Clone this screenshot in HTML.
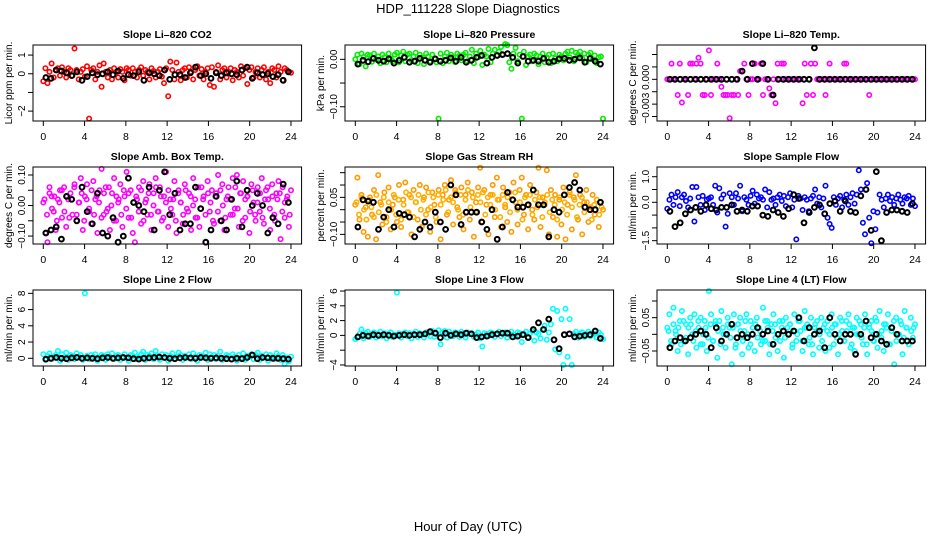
<!DOCTYPE html>
<html><head><meta charset="utf-8"><style>
html,body{margin:0;padding:0;background:#fff;}
svg{display:block;font-family:"Liberation Sans",sans-serif;}
</style></head><body>
<svg id="chart" width="936" height="540" viewBox="0 0 936 540" xmlns="http://www.w3.org/2000/svg">
<rect x="0" y="0" width="936" height="540" fill="#fff"/>
<text x="468" y="13" text-anchor="middle" font-size="13">HDP_111228  Slope Diagnostics</text>
<text x="468" y="531" text-anchor="middle" font-size="13">Hour of Day (UTC)</text>
</svg>
<script>
// ---- data (hours axis is 0..24; colored series evenly spaced over the day, black series are half-hour means) ----
const xTicks = [0,4,8,12,16,20,24];
const co2 = [-0.4,0.3,-0.5,0.1,0.55,-0.2,0.2,0.3,-0.1,0.35,0.1,-0.2,0.3,0.2,-0.1,1.35,0.2,-0.3,0.1,0.25,-0.15,0.4,-2.4,0.2,0.3,-0.3,0.1,0.45,-0.7,0.55,0.1,-0.2,0.2,-0.3,0.3,0.1,-0.2,0.25,0.1,-0.35,0.3,0.2,-0.1,0.3,0.1,-0.2,0.2,0.35,-0.1,0.2,0.1,-0.3,0.3,0.15,-0.2,0.1,0.25,-0.15,-0.5,0.3,-1.2,0.65,0.2,-0.3,0.6,0.1,-0.35,0.2,0.3,-0.2,0.35,0.1,-0.3,0.2,0.4,-0.1,0.25,-0.3,0.1,0.3,-0.6,0.35,-0.7,0.1,0.45,-0.3,0.2,0.3,-0.2,0.1,0.3,-0.35,0.2,0.1,-0.2,0.4,-0.1,0.3,-0.55,0.2,0.35,-0.2,0.1,0.3,-0.2,0.2,0.35,-0.3,0.1,-0.5,0.3,0.2,-0.2,0.4,0.1,-0.35,0.3,0.2,0.1,0.05];
const co2Mean = [-0.2,-0.25,0.2,0.15,0.05,-0.1,0.1,-0.35,-0.15,0.05,-0.05,0,0.1,-0.05,0.15,-0.25,-0.05,-0.1,0.1,-0.35,0.05,0,-0.1,0.2,-0.3,-0.05,-0.05,-0.2,0.05,0.35,-0.1,0,-0.25,0.05,-0.1,0.05,0,-0.05,0.2,0.35,-0.25,0.05,-0.05,0,-0.15,-0.05,-0.35,0.1];
const pres = [0,0.01,-0.01,0.012,0.005,-0.015,0.01,0.008,-0.005,0.012,0,0.006,-0.008,0.01,0.004,-0.006,0.012,0.002,-0.004,0.01,0.014,-0.006,0.008,0.016,-0.004,0.01,0.012,-0.002,0.006,0.014,-0.008,0.01,0.004,-0.01,0.012,0.006,-0.004,0.01,0.002,-0.006,-0.125,0.012,-0.008,0.006,0.014,-0.004,0.01,0.004,-0.006,0.012,0.008,-0.002,0.01,0.014,-0.004,0.006,0.02,-0.008,0.012,0.004,0.018,-0.012,0.01,0.006,0.022,-0.006,0.012,0.02,0.008,0.016,0.026,0.01,0.032,0.03,-0.006,-0.02,0.012,0.024,-0.004,0.01,-0.125,0.016,-0.012,0.006,0.01,-0.004,0.012,0.008,-0.01,0.006,0.012,-0.006,0.004,0.01,-0.008,0.012,0.002,-0.004,0.01,0.006,-0.002,0.012,0.016,0.004,0.018,-0.004,0.014,0.01,0.016,0.002,0.012,-0.006,0.01,0.014,0,0.008,-0.008,0.004,0.006,-0.125];
const presMean = [-0.01,-0.002,-0.005,0.002,-0.002,-0.004,0.001,-0.008,-0.002,0.004,-0.006,-0.004,0.002,-0.002,-0.006,0.001,-0.004,-0.002,0.003,-0.004,0.004,-0.006,-0.002,0.004,0.008,-0.008,0.004,0.008,0.01,0.012,0.004,-0.008,0.006,-0.004,-0.002,-0.004,0.002,-0.006,-0.004,0.001,0.002,-0.002,0,0.003,-0.006,0.002,-0.004,-0.01];
const temp = [0,0,0.0019,0,0,-0.0019,0.0019,-0.0028,0,0,-0.0019,0.0019,0.0019,0,0.0019,0.0026,0.0019,-0.0019,-0.0019,0,0.0035,-0.0019,0,0,0.0019,0,-0.0009,-0.0019,-0.0019,-0.0019,-0.0047,-0.0019,-0.0019,0,-0.0019,0.001,0.001,0.0019,0,-0.0019,0,0,0.0019,0,0,0.0019,-0.0019,0,0,-0.0011,-0.0019,0,-0.0029,0.0019,0,0.0019,0.0019,0,0,0,0,0,0,0,0,-0.0029,0.0019,-0.0019,0,0.0019,-0.0019,0.0019,0,0,0,0,-0.0019,0,0.0019,0,0,0,0,0,0,0.0019,0.0019,0,0,0,0,0,0,0,0,0,0,-0.0019,0,0,0,0,0,0,0,0,0,0,0,0,0,0,0,0,0,0,0,0,0,0];
const tempMean = [0,0,0,0,0,0,0,0,0,0,0,0,0,0,0.001,0,0.0019,0,0.0019,0,-0.0019,0,0,0,0,0,0,0,0.0038,0,0,0,0,0,0,0,0,0,0,0,0,0,0,0,0,0,0,0];
const amb = [0.01,-0.09,-0.12,0.06,0.03,-0.02,-0.08,0.02,0.05,-0.04,0.06,-0.07,0.02,0.04,-0.03,0.07,-0.05,0.01,0.09,-0.08,0.03,0.07,-0.02,-0.06,0.08,0.02,-0.09,0.05,0.12,-0.03,0.06,-0.01,-0.08,0.04,0.09,-0.05,0.01,0.07,-0.07,0.03,0.11,-0.04,0.05,-0.09,-0.12,0.02,0.06,-0.06,0.08,0.01,-0.03,0.07,-0.08,0.04,0.09,-0.02,0.06,-0.05,0.03,0.11,-0.07,0.02,-0.03,0.08,-0.09,0.05,0.01,-0.06,0.07,-0.01,0.04,-0.08,0.09,0.02,-0.04,-0.07,0.06,0.03,-0.12,0.08,-0.02,0.05,-0.06,0.04,0.1,-0.05,0.07,-0.08,0.02,0.06,-0.03,0.09,-0.01,0.1,-0.07,0.04,0.08,-0.04,0.03,-0.09,0.07,0.01,-0.05,0.06,-0.02,0.09,-0.06,0.05,0.02,-0.08,0.07,-0.03,0.04,0.08,-0.11,0.06,-0.04,0.02,-0.07,0.05];
const amb2 = [0.02,-0.03,0.04,-0.01,0.03,-0.05,0.01,0.05,-0.02,0.03,-0.04,0.02,0.06,-0.03,0.01,0.04,-0.05,0.02,-0.01,0.05,-0.03,0.03,0.01,-0.04,0.04,-0.02,0.06,0,-0.05,0.03,0.02,-0.03,0.05,-0.01,0.04,-0.04,0.01,0.03,-0.02,0.05,-0.05,0.02,0.04,-0.03,0,0.06,-0.02,0.03,-0.04,0.01,0.05,-0.01,0.02,-0.05,0.04,0.01,-0.03,0.05,-0.02,0.03,0,-0.04,0.06,-0.01,0.02,-0.03,0.04,0.01,-0.05,0.03,-0.02,0.05,0,-0.04,0.03,0.02,-0.03,0.06,-0.01,0.04,-0.05,0.02,0.03,-0.02,0.05,-0.03,0.01,0.04,-0.04,0.02,0.06,-0.01,0.03,-0.05,0.02,0.04,-0.02,0.01,0.03,-0.03];
const ambMean = [-0.09,-0.08,-0.07,-0.11,0.03,0.02,-0.05,0.06,-0.02,-0.06,0.04,-0.09,-0.1,-0.04,-0.12,-0.1,0.09,0.01,0,-0.02,0.06,-0.08,0.05,0.11,-0.03,0.04,-0.08,-0.06,-0.06,0.06,-0.01,-0.12,-0.08,0.03,-0.05,-0.08,0.02,0.08,-0.07,0.05,0,0.04,0,-0.09,-0.04,-0.06,0.07,0.01];
const rh = [0.02,0.13,-0.04,0.06,-0.09,0.01,-0.11,0.05,-0.02,0.08,-0.12,0.14,0.03,-0.06,0.07,-0.03,0.09,-0.08,0.02,0.05,-0.05,0.1,-0.07,0.04,0.11,-0.01,0.06,-0.1,0.08,0.03,-0.04,0.1,-0.07,0.05,0.09,0,-0.09,0.07,0.02,-0.05,0.08,-0.12,0.06,0.1,-0.02,0.04,0.12,-0.06,0.08,0.01,-0.03,0.09,-0.08,0.06,0.11,-0.04,0.07,-0.11,0.03,0.09,0.17,-0.05,0.08,0.02,-0.1,0.06,0.1,-0.03,0.13,0.04,-0.07,0.09,0.01,-0.05,0.07,-0.09,0.11,0.03,-0.06,0.08,0.13,-0.02,0.06,-0.08,0.1,0,-0.04,0.07,0.17,-0.07,0.05,0.02,0.16,-0.1,0.08,-0.03,0.06,-0.11,0.04,-0.06,0.09,-0.12,0.02,0.07,-0.08,0.05,0.14,-0.04,0.06,-0.1,0.03,0.08,-0.05,0.01,0.06,-0.02,0.04,-0.07,0.03,0];
const rh2 = [0.03,-0.02,0.05,0,-0.04,0.04,0.01,-0.03,0.06,-0.01,0.02,0.05,-0.05,0.03,0,0.06,-0.02,0.04,-0.04,0.02,0.07,-0.01,0.05,-0.03,0.03,0.06,0,0.04,-0.02,0.07,0.01,0.05,-0.03,0.06,0.02,0.04,0.08,-0.01,0.05,0.03,0.07,0,0.06,-0.02,0.04,0.08,0.01,0.05,-0.01,0.06,0.03,0.07,-0.02,0.05,0.02,0.06,0,0.04,-0.03,0.06,0.02,0.05,-0.01,0.04,0.07,0,0.03,-0.04,0.05,0.02,0.06,-0.02,0.04,0.01,0.05,-0.03,0.03,0.06,-0.01,0.04,0.02,-0.04,0.05,0,0.03,-0.02,0.06,0.01,0.04,-0.03,0.02,0.05,-0.01,0.03,0,-0.04,0.02,0.04,-0.02,0.01];
const rhMean = [-0.07,0.04,0.035,0.03,-0.08,-0.03,0,-0.07,-0.015,-0.02,-0.03,-0.11,-0.08,-0.05,-0.07,-0.01,-0.05,-0.08,0.1,0.06,-0.06,-0.01,-0.01,-0.01,-0.05,-0.08,0,-0.12,-0.07,0.07,0.04,0.01,0.01,0.02,0.08,0.02,0.02,-0.11,0,-0.01,0.06,0.09,0.11,0.08,0.01,0,0,0.03];
const flow = [-0.25,0.1,0.3,-0.1,0.2,0.4,-0.15,0.2,0.3,0.05,-0.2,0.15,0.6,-0.75,0.6,0.2,-0.1,0.25,-0.3,0.1,0.15,0.2,-0.1,0.65,-0.4,0.55,0.15,0.3,-0.95,-0.45,0.35,0.2,-0.1,0.35,0.15,0.65,-0.35,0.2,0.1,-0.1,0.25,0.45,-0.05,0.3,0.15,0.2,0.1,0.5,-0.2,0.4,0.1,0.15,-0.1,0.2,0.3,0.05,0.25,-0.15,0.2,0.35,-0.2,0.1,-1.45,0.25,0.15,-0.3,0.2,0.1,-0.35,0.15,0.25,0.5,-0.05,0.2,-0.2,0.15,0.65,-0.6,-0.85,-1.0,0.2,-0.1,0.15,0.25,-0.2,0.1,0.3,-0.1,0.2,0.35,-0.05,0.3,1.25,0.5,-0.8,-1.25,0.75,-0.6,-1.6,-0.35,-1.05,-0.4,0.3,0.1,-0.2,0.15,0.3,0.05,0.2,-0.1,0.15,0.3,0.1,-0.05,0.2,0.15,0.25,-0.1,0.15,-0.15];
const flowMean = [-0.35,-0.95,-0.8,-0.45,-0.3,-0.2,-0.35,-0.1,-0.25,-0.3,-0.2,-0.2,-0.1,-0.35,-0.3,-0.35,-0.15,-0.15,-0.5,-0.55,-0.3,-0.4,-0.55,-0.25,0.3,0.15,-0.8,-0.4,-0.2,-0.1,-0.45,-0.05,0.05,-0.35,0.05,-0.35,-0.4,0.25,0.5,-1.1,1.2,-1.5,-0.4,-0.3,-0.3,-0.35,-0.4,-0.05];
const line2 = [0.5,-0.2,0.3,0.6,-0.1,0.2,0.4,0.9,-0.3,0.5,0.1,0.7,-0.2,0.4,0.3,-0.1,0.6,0.2,0.4,-0.2,8.0,0.3,-0.1,0.4,0.2,0.5,-0.3,0.1,0.4,0.3,-0.2,0.5,0.2,0.6,-0.1,0.3,0.4,-0.2,0.2,0.5,0.1,-0.3,0.4,0.3,0.7,-0.1,0.2,0.5,0.8,-0.2,0.4,0.3,0.6,-0.1,0.9,0.3,-0.2,0.5,0.1,0.4,-0.3,0.3,0.6,-0.1,0.2,0.7,0.4,-0.2,0.3,0.1,0.5,-0.1,0.6,0.2,-0.3,0.4,0.3,0.1,0.7,-0.2,0.5,0.2,0.4,-0.1,0.3,0.8,-0.2,0.1,0.4,0.3,-0.1,0.5,0.2,-0.3,0.4,0.1,0.6,-0.2,0.3,0.2,0.5,-0.1,0.4,0.7,-0.2,0.3,0.1,0.5,-0.3,0.4,0.2,-0.1,0.6,0.3,-0.2,0.4,-0.7,0.1,-0.4,0.2];
const line2Mean = [-0.1,0,0.1,0,-0.05,0.05,0.1,0,0.05,0,-0.05,0.05,0.1,0,0.05,0.1,0.05,-0.05,-0.1,0,0.05,0.1,0.15,0.1,0,-0.05,0.05,0.1,0.05,0,0.1,0.05,0,0.05,0,-0.05,-0.1,0,-0.05,0.1,0.4,-0.05,0.1,0.05,0,0,-0.05,-0.1];
const line3 = [-0.5,-0.3,0.2,0.8,-0.4,0.3,0.5,-0.2,0.1,0.4,-0.3,0.2,0.5,-0.1,0.3,-0.4,0.2,0.4,-0.2,0.1,5.8,0.3,-0.3,0.2,0.4,-0.1,0.3,-0.4,0.2,0.5,-0.2,0.3,0.1,-0.3,0.4,0.2,-0.1,0.6,-0.2,0.3,0.7,-1.2,0.4,0.6,-0.3,0.5,0.2,-0.1,0.4,0.3,-0.2,0.5,0.1,-0.3,0.4,0.2,0.3,-0.2,0.1,0.4,-0.4,-1.5,0.3,0.2,-0.1,0.4,0.3,-0.2,0.2,0.5,-0.1,0.3,0.4,-0.3,0.2,0.5,0.1,-0.2,0.4,0.3,-0.9,0.2,0.5,-0.2,0.3,0.6,-0.7,0.4,0.2,-0.4,0.8,1.3,-0.6,0.4,1.5,3.6,-1.9,3.3,-2.3,2.2,-4.0,3.6,-2.9,2.2,-4.0,0.2,0.5,-0.3,0.3,0.4,-0.2,0.2,0.5,-0.1,0.3,0.2,-0.3,0.4,0.1,-0.5];
const line3Mean = [-0.2,0,-0.1,0.1,0,0.1,0,-0.1,0,0.1,0,0.1,0.1,0.2,0.5,0.3,-0.3,0.3,0,0.2,0.1,0.3,0.2,-0.3,-0.2,-0.1,0.1,0.2,0.3,0.3,-0.2,-0.1,0.1,-0.3,0.8,1.7,0.8,2.2,-0.6,-1.8,0.1,0.2,-0.2,-0.1,0,0.1,0.6,-0.4];
const line4 = [0.02,0.06,-0.03,0.08,0.01,-0.05,0.04,0.07,-0.02,0.03,-0.06,0.05,0,0.06,-0.04,0.02,0.05,-0.03,0.04,-0.05,0.13,0.06,-0.02,0.03,-0.07,0.04,0.07,0,-0.04,0.05,0.02,-0.09,0.06,-0.03,0.03,0.05,-0.06,0.01,0.06,-0.04,0.04,0,-0.05,0.05,0.02,-0.03,0.08,-0.02,0.04,-0.06,0.03,0.06,-0.01,-0.05,0.04,0.02,-0.07,0.05,0,0.03,-0.04,0.06,-0.02,0.04,0.01,-0.05,0.07,0.02,-0.03,0.05,-0.06,0.03,0.01,-0.04,0.05,0.02,-0.05,0.04,0,0.06,-0.03,0.03,-0.06,0.05,0.01,-0.02,0.04,0.06,-0.04,0.02,-0.05,0.05,0,0.03,-0.03,0.06,-0.06,0.02,0.04,-0.02,0.05,-0.04,0.07,0.01,-0.05,0.03,0.06,-0.03,0.02,-0.09,0.05,0,0.04,-0.06,0.07,0.02,-0.03,0.05,-0.01,0.03];
const line4b = [0.01,-0.02,0.03,0,0.02,-0.03,0.04,-0.01,0.02,0.03,-0.02,0.01,0.04,-0.03,0,0.02,-0.01,0.03,-0.02,0.04,0.01,-0.03,0.02,0,0.03,-0.01,0.02,-0.04,0.03,0.01,-0.02,0.04,0,-0.03,0.02,0.03,-0.01,0.01,-0.02,0.04,0.02,-0.03,0.01,0.03,0,-0.02,0.04,-0.01,0.02,0.03,-0.03,0.01,0,0.04,-0.02,0.02,0.03,-0.01,-0.03,0.02,0.04,0,-0.02,0.03,0.01,-0.04,0.02,0.03,-0.01,0,0.04,-0.02,0.01,0.03,-0.03,0.02,0,0.04,-0.01,0.02,-0.03,0.03,0.01,-0.02,0.04,0,-0.01,0.03,0.02,-0.03,0.01,0.04,-0.02,0,0.03,-0.01,0.02,-0.03,0.01,0.02];
const line4Mean = [-0.04,-0.02,-0.01,-0.02,-0.01,0,0.01,0,-0.04,0.02,-0.02,0,0.03,-0.01,0,-0.01,0,0.02,0,0.01,-0.03,0,0.01,0,0.01,0.05,-0.02,0.02,0,0.01,-0.04,0.05,0,-0.02,0,0,-0.06,0,0.04,-0.01,0,-0.02,-0.03,0.02,0,-0.02,-0.02,-0.02];

// ---- panel configuration ----
const panels = [
 {name:'co2',title:'Slope Li\u2013820 CO2',ylab:'Licor ppm per min.',col:0,row:0,dom:[-2.53,1.54],ticks:[-2,-1,0,1],labels:['\u22122','','0','1'],series:[[co2,'#ff0000'],[co2Mean,'#000']]},
 {name:'pressure',title:'Slope Li\u2013820 Pressure',ylab:'kPa per min.',col:1,row:0,dom:[-0.130,0.0302],ticks:[-0.1,-0.05,0],labels:['\u22120.10','','0.00'],series:[[pres,'#00ee00'],[presMean,'#000']]},
 {name:'temp',title:'Slope Li\u2013820 Temp.',ylab:'degrees C per min.',col:2,row:0,dom:[-0.00504,0.00415],ticks:[-0.0045,-0.003,-0.0015,0,0.0015,0.003],labels:['','\u22120.003','','0.000','',''],labelShift:[0,4,0,-2,0,0],series:[[temp,'#ff00ff'],[tempMean,'#000']]},
 {name:'amb-box-temp',title:'Slope Amb. Box Temp.',ylab:'degrees C per min.',col:0,row:1,dom:[-0.126,0.1262],ticks:[-0.1,-0.05,0,0.05,0.1],labels:['\u22120.10','','0.00','','0.10'],series:[[amb,'#ff00ff'],[amb2,'#ff00ff'],[ambMean,'#000']]},
 {name:'gas-stream-rh',title:'Slope Gas Stream RH',ylab:'percent per min.',col:1,row:1,dom:[-0.139,0.173],ticks:[-0.1,-0.05,0,0.05,0.1,0.15],labels:['\u22120.10','','','0.05','',''],series:[[rh,'#ff9a00'],[rh2,'#ffb000'],[rhMean,'#000']]},
 {name:'sample-flow',title:'Slope Sample Flow',ylab:'ml/min per min.',col:2,row:1,dom:[-1.63,1.38],ticks:[-1.5,-1,-0.5,0,0.5,1],labels:['\u22121.5','','','0.0','','1.0'],series:[[flow,'#0000ff'],[flowMean,'#000']]},
 {name:'line2-flow',title:'Slope Line 2 Flow',ylab:'ml/min per min.',col:0,row:2,dom:[-0.95,8.41],ticks:[0,2,4,6,8],labels:['0','2','4','6','8'],series:[[line2,'#00ffff'],[line2Mean,'#000']]},
 {name:'line3-flow',title:'Slope Line 3 Flow',ylab:'ml/min per min.',col:1,row:2,dom:[-4.14,6.14],ticks:[-4,-2,0,2,4,6],labels:['\u22124','','0','2','4','6'],series:[[line3,'#00ffff'],[line3Mean,'#000']]},
 {name:'line4-flow',title:'Slope Line 4 (LT) Flow',ylab:'ml/min per min.',col:2,row:2,dom:[-0.095,0.133],ticks:[-0.05,0,0.05,0.1],labels:['\u22120.05','','0.05',''],series:[[line4,'#00ffff'],[line4b,'#00ffff'],[line4Mean,'#000']]}
];

const NS='http://www.w3.org/2000/svg';
const svg=document.getElementById('chart');
const COLX=[43.3,355.3,667.3], HOURPX=10.32;
const ROWTOP=[45,167,290], ROWBOT=[121,244,366];
function mk(tag,attrs,parent){const e=document.createElementNS(NS,tag);for(const k in attrs)e.setAttribute(k,attrs[k]);(parent||svg).appendChild(e);return e;}

panels.forEach(p=>{
  const x0=COLX[p.col], top=ROWTOP[p.row], bot=ROWBOT[p.row];
  const left=x0-10.3, right=x0+24*HOURPX+10.6;
  const xs=h=>x0+h*HOURPX;
  const ys=v=>bot-(v-p.dom[0])/(p.dom[1]-p.dom[0])*(bot-top);
  const g=mk('g',{});
  
  
  const t=mk('text',{x:(left+right)/2,y:top-7,'text-anchor':'middle','font-size':'10.5','font-weight':'bold'},g);
  t.textContent=p.title;
  
  
  p.series.forEach((s,si)=>{
    const vals=s[0], color=s[1], isMean=(color==='#000');
    const sg=mk('g',{fill:'none',stroke:color,'stroke-width':isMean?2:1.6},g);
    
    
    const n=vals.length;
    const off = (si===1 && !isMean) ? 0.5 : 0;
    vals.forEach((v,i)=>{
      const h = isMean ? 0.25+0.5*i : (i+off)*24/(n-1+off*2);
      const c=mk('circle',{cx:xs(h).toFixed(1),cy:ys(v).toFixed(1),r:isMean?2.4:2.2},sg);
      
      
    });
  });
  const box=mk('rect',{x:left,y:top,width:right-left,height:bot-top,fill:'none',stroke:'#000','stroke-width':1},g);
  
  
  const xa=mk('g',{},g);
  
  
  mk('line',{x1:xs(0),x2:xs(24),y1:bot,y2:bot,stroke:'#000'},xa);
  xTicks.forEach(h=>{
    mk('line',{x1:xs(h),x2:xs(h),y1:bot,y2:bot+5,stroke:'#000'},xa);
    const tl=mk('text',{x:xs(h),y:bot+19,'text-anchor':'middle','font-size':'10.5'},xa);
    tl.textContent=h;
    
    
  });
  const ya=mk('g',{},g);
  
  
  const y1=ys(p.ticks[0]), y2=ys(p.ticks[p.ticks.length-1]);
  mk('line',{x1:left,x2:left,y1:y1,y2:y2,stroke:'#000'},ya);
  p.ticks.forEach((v,i)=>{
    const y=ys(v);
    mk('line',{x1:left-5,x2:left,y1:y,y2:y,stroke:'#000'},ya);
    if(p.labels[i]){
      const sh=p.labelShift?p.labelShift[i]:0;
      const tl=mk('text',{x:0,y:0,'text-anchor':'middle','font-size':'10',transform:`translate(${left-8},${y+sh}) rotate(-90)`},ya);
      tl.textContent=p.labels[i];
      
      
    }
  });
  const yl=mk('text',{x:0,y:0,'text-anchor':'middle','font-size':'10',transform:`translate(${left-21},${(top+bot)/2}) rotate(-90)`},g);
  yl.textContent=p.ylab;
  
  
});
</script>
</body></html>
